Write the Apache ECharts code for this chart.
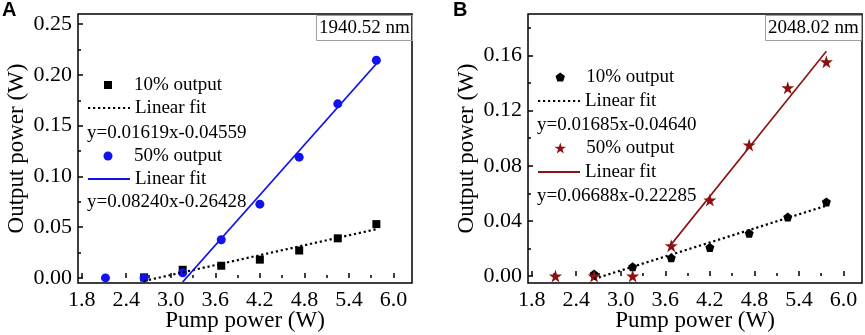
<!DOCTYPE html>
<html>
<head>
<meta charset="utf-8">
<script src="https://cdn.jsdelivr.net/npm/echarts@6/dist/echarts.min.js"></script>
<style>
  html, body { margin: 0; padding: 0; background: #fff; }
  #chart { width: 865px; height: 335px; }
</style>
</head>
<body>
<div id="chart"></div>
<script>
// pump power (W) shared by all measured series
var pump = [2.12, 2.64, 3.16, 3.68, 4.20, 4.73, 5.25, 5.77];

// panel A, 1940.52 nm
var outA10 = ['-', 0.0005, 0.008, 0.012, 0.018, 0.027, 0.039, 0.053];
var outA50 = [0.000, 0.000, 0.005, 0.0376, 0.0727, 0.119, 0.1715, 0.2144];
var fitA10X = [2.64, 5.77];
var fitA10Y = [-0.003, 0.048];
var fitA50X = [3.16, 5.77];
var fitA50Y = [-0.004, 0.211];

// panel B, 2048.02 nm
var outB10 = ['-', 0.0015, 0.0067, 0.0133, 0.0208, 0.031, 0.0428, 0.0538];
var outB50 = [0.000, 0.000, 0.000, 0.022, 0.0551, 0.095, 0.1365, 0.1553];
var fitB10X = [2.64, 5.77];
var fitB10Y = [-0.002, 0.051];
var fitB50X = [3.68, 5.77];
var fitB50Y = [0.023, 0.163];

// ticks
var xTicks = [1.8, 2.4, 3.0, 3.6, 4.2, 4.8, 5.4, 6.0];
var xMinor = [2.1, 2.7, 3.3, 3.9, 4.5, 5.1, 5.7];
var yTicksA = [0, 0.05, 0.10, 0.15, 0.20, 0.25];
var yMinorA = [0.025, 0.075, 0.125, 0.175, 0.225];
var yTicksB = [0, 0.04, 0.08, 0.12, 0.16];
var yMinorB = [0.02, 0.06, 0.10, 0.14, 0.18];

var labelA = '1940.52 nm';
var labelB = '2048.02 nm';
var eqA10 = 'y=0.01619x-0.04559';
var eqA50 = 'y=0.08240x-0.26428';
var eqB10 = 'y=0.01685x-0.04640';
var eqB50 = 'y=0.06688x-0.22285';

var SERIF = 'Liberation Serif';
var BLUE = '#1212f0';
var WINE = '#8c1212';
var SQUARE = 'path://M0,0L1,0L1,1L0,1Z';
var PENTAGON = 'path://M0,-1L0.951,-0.309L0.588,0.809L-0.588,0.809L-0.951,-0.309Z';
var STAR = 'path://M0,-1L0.2245,-0.309L0.951,-0.309L0.3633,0.118L0.588,0.809L0,0.382L-0.588,0.809L-0.3633,0.118L-0.951,-0.309L-0.2245,-0.309Z';

var displayNames = {
  A10: '10% output', A10fit: 'Linear fit', A50: '50% output', A50fit: 'Linear fit',
  B10: '10% output', B10fit: 'Linear fit', B50: '50% output', B50fit: 'Linear fit'
};

function pairs(xs, ys) {
  var out = [];
  for (var i = 0; i < xs.length; i++) {
    if (ys[i] !== '-') out.push([xs[i], ys[i]]);
  }
  return out;
}

function mainX(grid) {
  return {
    type: 'value', gridIndex: grid, min: 1.75, max: 6.25,
    axisLine: { show: false },
    splitLine: { show: false },
    axisTick: { customValues: xTicks, inside: true, length: 5, lineStyle: { color: '#000', width: 1.5 } },
    axisLabel: {
      customValues: xTicks, margin: 6, color: '#000', fontSize: 22, fontFamily: SERIF,
      formatter: function (v) { return v.toFixed(1); }
    },
    name: 'Pump power (W)', nameLocation: 'middle', nameGap: 26, nameMoveOverlap: false,
    nameTextStyle: { color: '#000', fontSize: 23, fontFamily: SERIF }
  };
}

function minorX(grid) {
  return {
    type: 'value', gridIndex: grid, min: 1.75, max: 6.25, position: 'bottom',
    axisLine: { show: false }, splitLine: { show: false }, axisLabel: { show: false },
    axisTick: { customValues: xMinor, inside: true, length: 3, lineStyle: { color: '#000', width: 1.5 } }
  };
}

function mainY(grid, max, ticks) {
  return {
    type: 'value', gridIndex: grid, min: -0.005, max: max,
    axisLine: { show: false },
    splitLine: { show: false },
    axisTick: { customValues: ticks, inside: true, length: 5, lineStyle: { color: '#000', width: 1.5 } },
    axisLabel: {
      customValues: ticks, margin: 6, color: '#000', fontSize: 22, fontFamily: SERIF,
      formatter: function (v) { return v.toFixed(2); }
    },
    name: 'Output power (W)', nameLocation: 'middle', nameGap: 50, nameMoveOverlap: false,
    nameTextStyle: { color: '#000', fontSize: 23, fontFamily: SERIF }
  };
}

function minorY(grid, max, ticks) {
  return {
    type: 'value', gridIndex: grid, min: -0.005, max: max, position: 'left',
    axisLine: { show: false }, splitLine: { show: false }, axisLabel: { show: false },
    axisTick: { customValues: ticks, inside: true, length: 3, lineStyle: { color: '#000', width: 1.5 } }
  };
}

// line entries: icon is a 42px line starting at `left`
// marker entries: the symbol sits at the left of the item, so `left` is the marker centre
function legendItem(name, left, rowY, iconH, isLine) {
  var lg = {
    data: [name], left: isLine ? left : left - iconH / 2, top: rowY - 10, padding: 0,
    itemWidth: 42, itemHeight: iconH, selectedMode: false,
    textStyle: { color: '#000', fontSize: 19, fontFamily: SERIF, lineHeight: 20 },
    formatter: function (n) { return displayNames[n]; }
  };
  if (isLine) {
    // hide the dot a line series puts in the middle of its legend icon
    lg.itemStyle = { color: 'rgba(0,0,0,0)', borderWidth: 0, opacity: 0 };
  }
  return lg;
}

function textLine(text, left, rowY) {
  return {
    text: text, left: left, top: rowY - 10, padding: 0,
    textStyle: { color: '#000', fontSize: 19, fontWeight: 'normal', fontFamily: SERIF, lineHeight: 20 }
  };
}

function boxLabel(text, left) {
  return {
    text: text, left: left, top: 15, padding: [3, 3, 3, 3],
    borderColor: '#a0a0a0', borderWidth: 1,
    textStyle: { color: '#000', fontSize: 19, fontWeight: 'normal', fontFamily: SERIF, lineHeight: 20 }
  };
}

function panelLetter(text, left) {
  return {
    text: text, left: left, top: 0, padding: 0,
    textStyle: { color: '#000', fontSize: 20, fontWeight: 'bold', fontFamily: 'Liberation Sans' }
  };
}

var myChart = echarts.init(document.getElementById('chart'));

var option = {
  animation: false,
  title: [
    panelLetter('A', 2),
    panelLetter('B', 453),
    boxLabel(labelA, 316),
    boxLabel(labelB, 765),
    textLine(eqA10, 87, 133),
    textLine(eqA50, 87, 202),
    textLine(eqB10, 537, 125),
    textLine(eqB50, 537, 196)
  ],
  legend: [
    legendItem('A10', 108, 85, 8, false),
    legendItem('A10fit', 87, 108, 8, true),
    legendItem('A50', 108, 156, 9, false),
    legendItem('A50fit', 87, 179, 8, true),
    legendItem('B10', 560, 77, 9, false),
    legendItem('B10fit', 537, 101, 8, true),
    legendItem('B50', 560, 148, 11, false),
    legendItem('B50fit', 537, 172, 8, true)
  ],
  grid: [
    { left: 78, top: 14, width: 334, height: 269, outerBoundsMode: 'none', containLabel: false,
      show: true, borderColor: '#000', borderWidth: 1.5 },
    { left: 528, top: 14, width: 334, height: 269, outerBoundsMode: 'none', containLabel: false,
      show: true, borderColor: '#000', borderWidth: 1.5 }
  ],
  xAxis: [mainX(0), mainX(1), minorX(0), minorX(1)],
  yAxis: [mainY(0, 0.26, yTicksA), mainY(1, 0.19, yTicksB), minorY(0, 0.26, yMinorA), minorY(1, 0.19, yMinorB)],
  series: [
    {
      name: 'A10', type: 'scatter', xAxisIndex: 0, yAxisIndex: 0,
      symbol: SQUARE, symbolSize: 8, itemStyle: { color: '#000', opacity: 1 },
      data: pairs(pump, outA10)
    },
    {
      name: 'A10fit', type: 'line', xAxisIndex: 0, yAxisIndex: 0, symbol: 'none',
      lineStyle: { color: '#000', width: 2.2, type: [2.2, 2.8] }, itemStyle: { color: '#000' },
      data: pairs(fitA10X, fitA10Y)
    },
    {
      name: 'A50', type: 'scatter', xAxisIndex: 0, yAxisIndex: 0,
      symbol: 'circle', symbolSize: 9, itemStyle: { color: BLUE, opacity: 1 },
      data: pairs(pump, outA50)
    },
    {
      name: 'A50fit', type: 'line', xAxisIndex: 0, yAxisIndex: 0, symbol: 'none',
      lineStyle: { color: BLUE, width: 1.8 }, itemStyle: { color: BLUE },
      data: pairs(fitA50X, fitA50Y)
    },
    {
      name: 'B10', type: 'scatter', xAxisIndex: 1, yAxisIndex: 1,
      symbol: PENTAGON, symbolSize: 9, itemStyle: { color: '#000', opacity: 1 },
      data: pairs(pump, outB10)
    },
    {
      name: 'B10fit', type: 'line', xAxisIndex: 1, yAxisIndex: 1, symbol: 'none',
      lineStyle: { color: '#000', width: 2.2, type: [2.2, 2.8] }, itemStyle: { color: '#000' },
      data: pairs(fitB10X, fitB10Y)
    },
    {
      name: 'B50', type: 'scatter', xAxisIndex: 1, yAxisIndex: 1,
      symbol: STAR, symbolSize: 13, itemStyle: { color: WINE, opacity: 1 },
      data: pairs(pump, outB50)
    },
    {
      name: 'B50fit', type: 'line', xAxisIndex: 1, yAxisIndex: 1, symbol: 'none',
      lineStyle: { color: WINE, width: 1.6 }, itemStyle: { color: WINE },
      data: pairs(fitB50X, fitB50Y)
    }
  ]
};

myChart.setOption(option);
</script>
</body>
</html>
